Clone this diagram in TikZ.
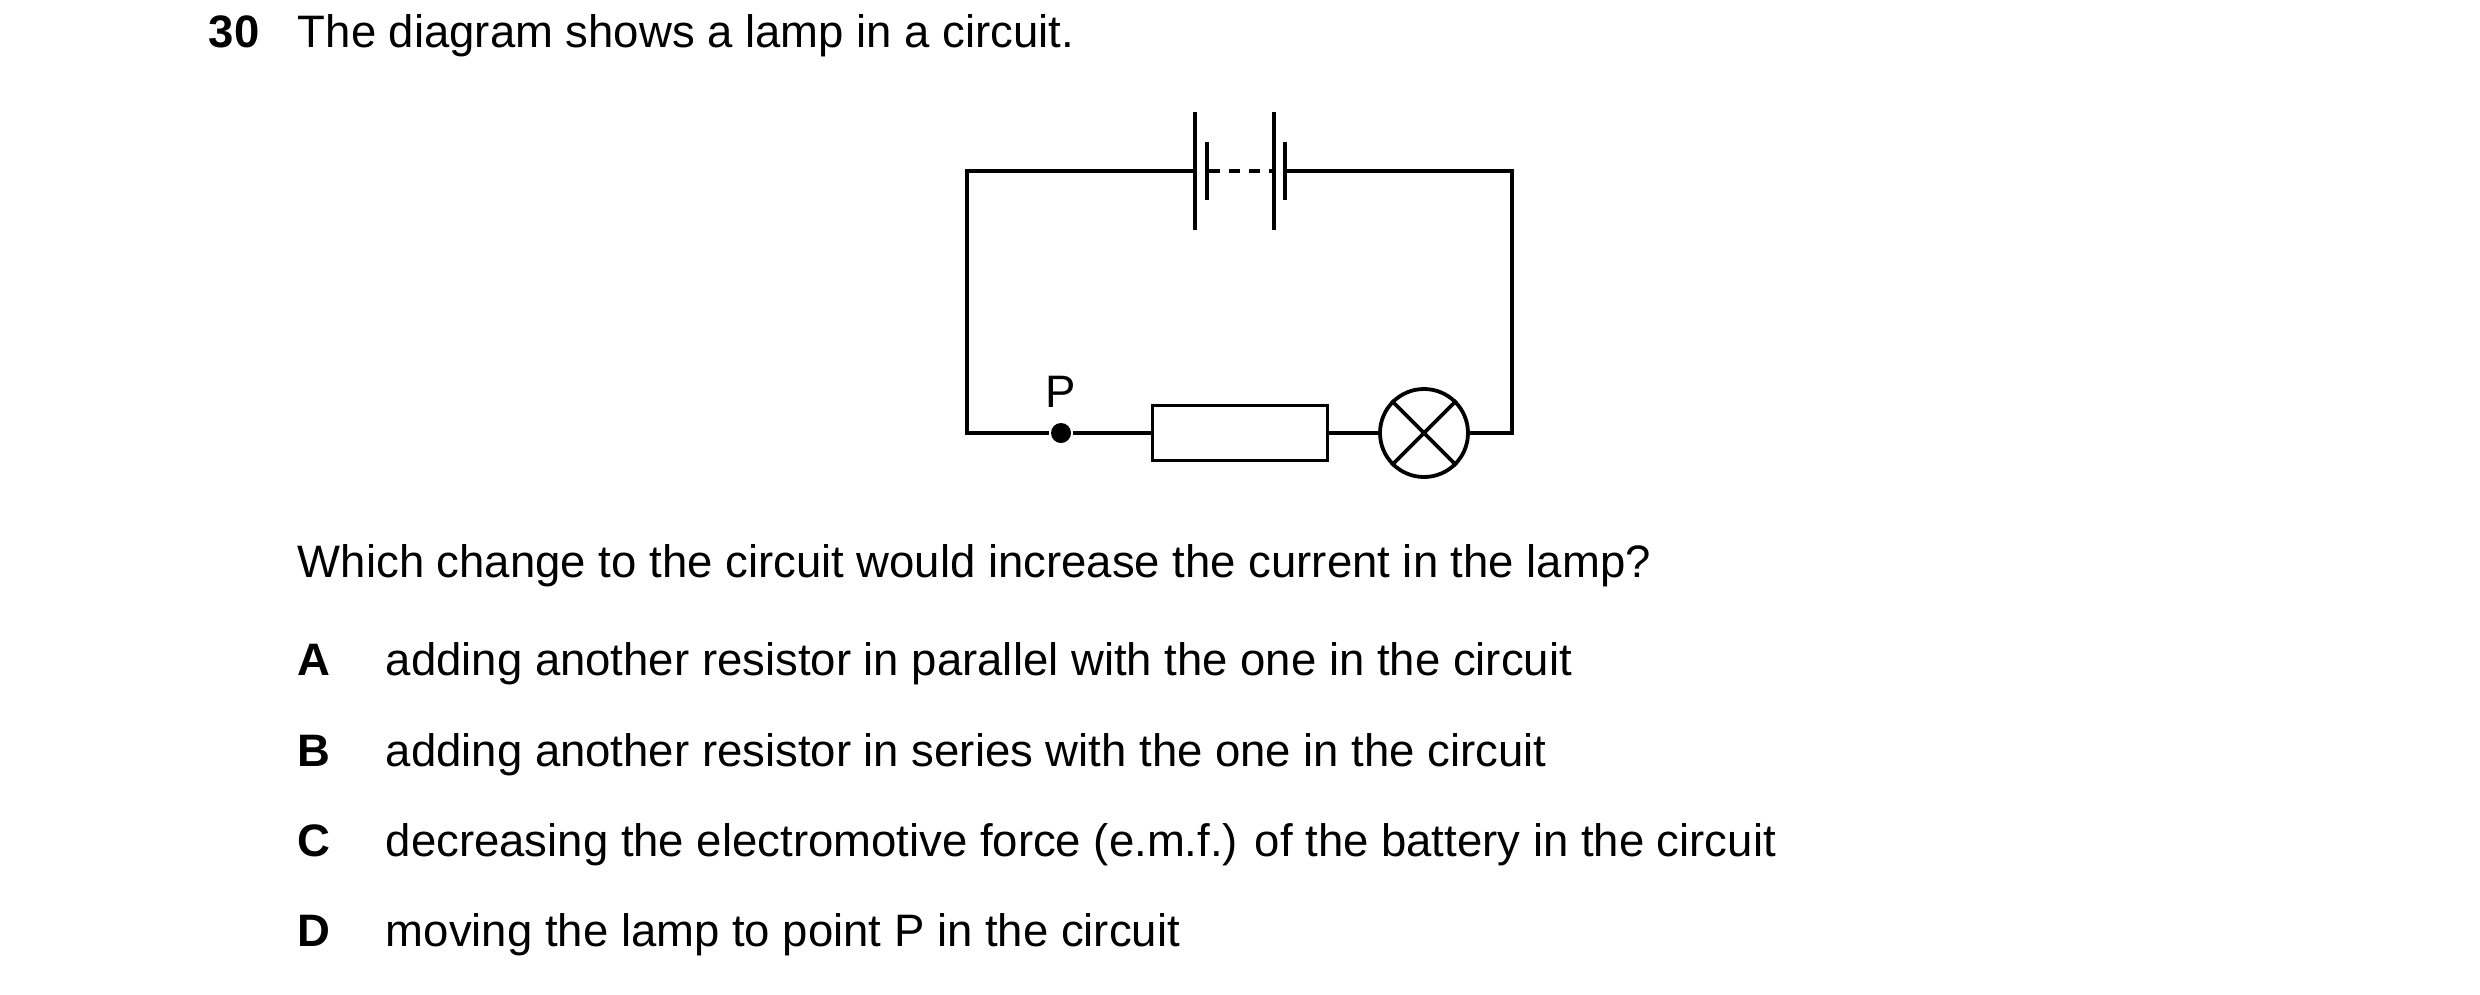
\documentclass[tikz,border=0pt]{standalone}
\usepackage{fontspec}
\setmainfont{Liberation Sans}
\begin{document}
\begin{tikzpicture}[x=1pt,y=-1pt,line width=3.8pt,
  txt/.style={anchor=base west,inner sep=0pt,font=\fontsize{45.5}{52}\selectfont},
  bold/.style={txt,font=\fontsize{45.5}{52}\selectfont\bfseries}]
\useasboundingbox (0,0) rectangle (2480,994);
% wires and components
\coordinate (tl) at (967,171); \coordinate (tr) at (1512,171);
\coordinate (bl) at (967,433); \coordinate (br) at (1512,433);
\node[draw,minimum width=175pt,minimum height=55pt,inner sep=0pt] (R) at (1240,433) {};
\node[draw,circle,minimum size=88pt,inner sep=0pt] (L) at (1424,433) {};
\node[circle,fill,minimum size=20pt,inner sep=0pt] (P) at (1061,433) {};
\node[txt,anchor=center] (Pl) at (1061,392) {P};
\draw (1195,171) -- (tl) -- (bl) -- (P) -- (R.west);
\draw (R.east) -- (L.west);
\draw (L.east) -- (br) -- (tr) -- (1285,171);
\draw (L.45) -- (L.225) (L.135) -- (L.315);
% cells
\draw (1195,112) -- (1195,230);
\draw (1207,142) -- (1207,200);
\draw (1274,112) -- (1274,230);
\draw (1285,142) -- (1285,200);
\draw[line width=4pt,dash pattern=on 11pt off 9pt] (1209,171) -- (1274,171);
% text
\node[bold] (n) at (207,47) {30};
\node[txt] (t) at (296,47) {The diagram shows a lamp in a circuit.};
\node[txt] (q) at (296,577) {Which change to the circuit would increase the current in the lamp?};
\node[bold] (A) at (296,675) {A};
\node[txt] (a) at (384,675) {adding another resistor in parallel with the one in the circuit};
\node[bold] (B) at (296,766) {B};
\node[txt] (b) at (384,766) {adding another resistor in series with the one in the circuit};
\node[bold] (C) at (296,856) {C};
\node[txt] (c) at (384,856) {decreasing the electromotive force (e.m.f.) of the battery in the circuit};
\node[bold] (D) at (296,946) {D};
\node[txt] (d) at (384,946) {moving the lamp to point P in the circuit};
\end{tikzpicture}
\end{document}
